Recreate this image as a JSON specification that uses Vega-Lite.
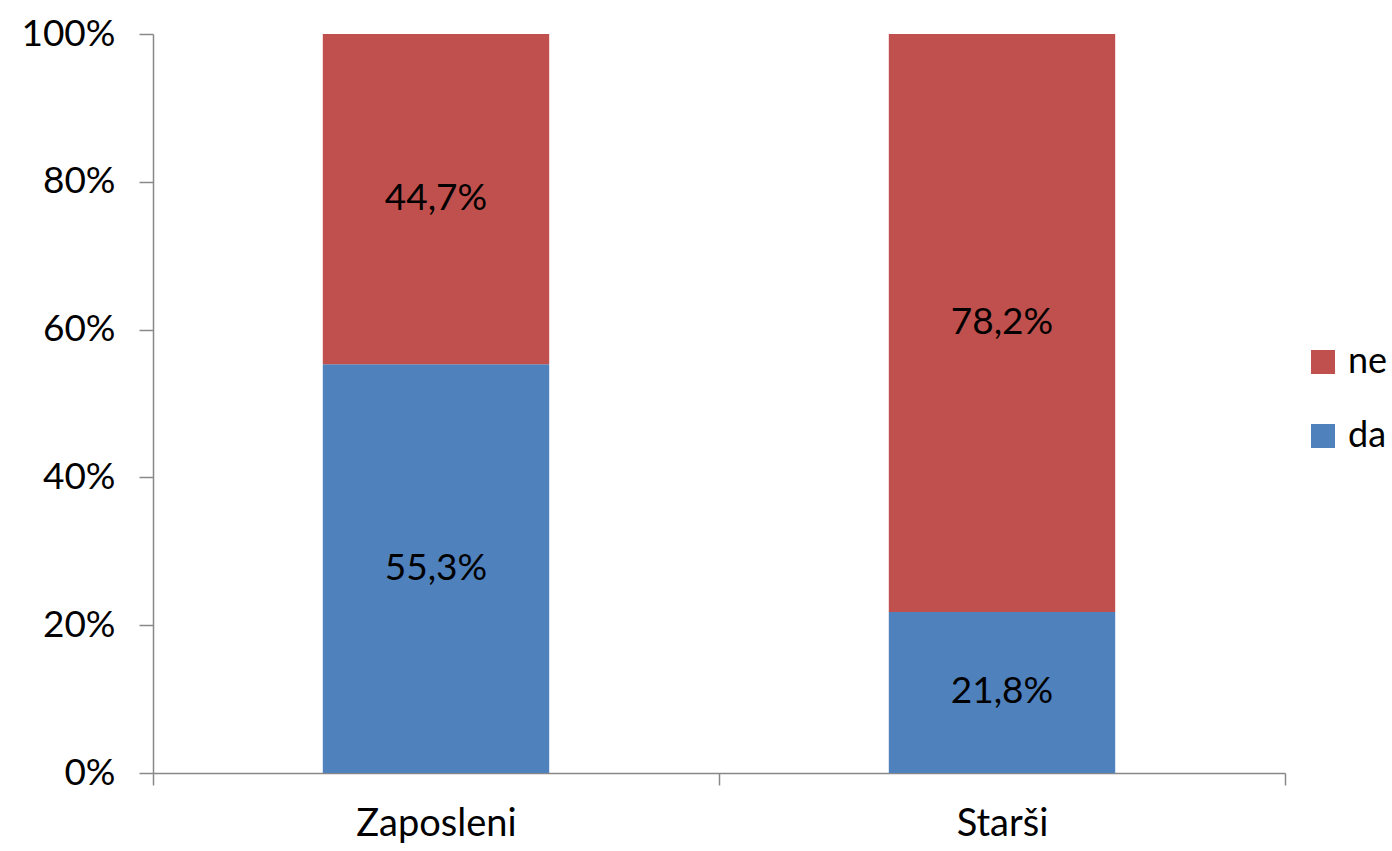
{
  "$schema": "https://vega.github.io/schema/vega-lite/v6.json",
  "width": 1132,
  "height": 739,
  "autosize": {"type": "none"},
  "padding": {"left": 153, "top": 34, "right": 107, "bottom": 78},
  "background": "#ffffff",
  "config": {
    "view": {"stroke": null},
    "locale": {"number": {"decimal": ",", "thousands": ".", "grouping": [3], "currency": ["", " €"]}},
    "font": "Lato"
  },
  "data": {
    "values": [
      {"group": "Zaposleni", "answer": "da", "value": 0.553},
      {"group": "Zaposleni", "answer": "ne", "value": 0.447},
      {"group": "Starši", "answer": "da", "value": 0.218},
      {"group": "Starši", "answer": "ne", "value": 0.782}
    ]
  },
  "transform": [
    {"stack": "value", "groupby": ["group"], "sort": [{"field": "answer", "order": "ascending"}], "as": ["y0", "y1"]},
    {"calculate": "(datum.y0 + datum.y1) / 2", "as": "mid"}
  ],
  "encoding": {
    "x": {
      "field": "group",
      "type": "nominal",
      "sort": ["Zaposleni", "Starši"],
      "scale": {"paddingInner": 0, "paddingOuter": 0},
      "axis": {
        "title": null,
        "labelAngle": 0,
        "labelFontSize": 38,
        "labelColor": "#000000",
        "labelPadding": 20,
        "tickBand": "extent",
        "tickSize": 12,
        "domainColor": "#888888",
        "tickColor": "#888888",
        "domainWidth": 1.5,
        "tickWidth": 1.5
      }
    }
  },
  "layer": [
    {
      "mark": {"type": "bar", "width": {"band": 0.4}},
      "encoding": {
        "y": {
          "field": "y0",
          "type": "quantitative",
          "scale": {"domain": [0, 1], "nice": false},
          "axis": {
            "title": null,
            "values": [0, 0.2, 0.4, 0.6, 0.8, 1],
            "format": ".0%",
            "grid": false,
            "labelFontSize": 37,
            "labelColor": "#000000",
            "labelPadding": 24,
            "tickSize": 14,
            "domainColor": "#888888",
            "tickColor": "#888888",
            "domainWidth": 1.5,
            "tickWidth": 1.5
          }
        },
        "y2": {"field": "y1"},
        "color": {
          "field": "answer",
          "type": "nominal",
          "scale": {"domain": ["ne", "da"], "range": ["#C0504D", "#4F81BD"]},
          "legend": {
            "title": null,
            "orient": "none",
            "legendX": 1152,
            "legendY": 310,
            "symbolType": "square",
            "symbolSize": 576,
            "symbolStrokeWidth": 0,
            "symbolOpacity": 1,
            "labelFontSize": 36,
            "labelColor": "#000000",
            "labelOffset": 7,
            "rowPadding": 38
          }
        }
      }
    },
    {
      "mark": {"type": "text", "fontSize": 37, "color": "#000000", "baseline": "middle", "align": "center"},
      "encoding": {
        "y": {"field": "mid", "type": "quantitative"},
        "text": {"field": "value", "type": "quantitative", "format": ".1%"}
      }
    }
  ]
}
